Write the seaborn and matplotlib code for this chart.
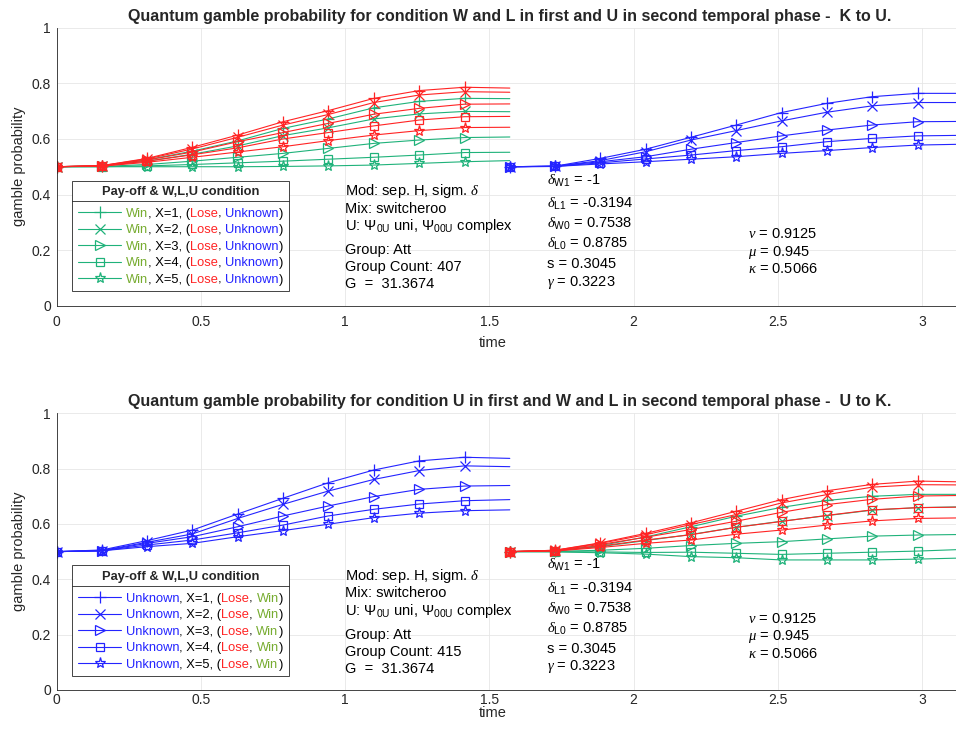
import numpy as np
import pandas as pd
import matplotlib
matplotlib.use('Agg')
import matplotlib.pyplot as plt
import seaborn as sns
from matplotlib.lines import Line2D

# ---------------- data ----------------
T1 = [0.000, 0.157, 0.314, 0.471, 0.628, 0.785, 0.942, 1.100, 1.257, 1.414, 1.571]
T2 = [1.571, 1.728, 1.885, 2.042, 2.199, 2.356, 2.513, 2.670, 2.827, 2.985, 3.142]

# top panel, first phase: Win (X=1..5) and Lose (X=1..5)
TOP_WIN = [
    [0.500, 0.503, 0.525, 0.556, 0.593, 0.638, 0.672, 0.712, 0.735, 0.746, 0.745],
    [0.500, 0.503, 0.520, 0.545, 0.575, 0.612, 0.640, 0.672, 0.690, 0.699, 0.698],
    [0.500, 0.501, 0.508, 0.520, 0.534, 0.548, 0.566, 0.584, 0.596, 0.605, 0.607],
    [0.500, 0.500, 0.503, 0.508, 0.514, 0.520, 0.527, 0.534, 0.542, 0.551, 0.552],
    [0.500, 0.500, 0.500, 0.500, 0.500, 0.501, 0.503, 0.506, 0.512, 0.518, 0.522],
]
TOP_LOSE = [
    [0.500, 0.504, 0.530, 0.570, 0.614, 0.662, 0.702, 0.746, 0.774, 0.786, 0.783],
    [0.500, 0.504, 0.528, 0.564, 0.606, 0.650, 0.688, 0.731, 0.758, 0.770, 0.768],
    [0.500, 0.503, 0.524, 0.553, 0.590, 0.623, 0.656, 0.689, 0.710, 0.725, 0.726],
    [0.500, 0.503, 0.520, 0.543, 0.568, 0.600, 0.623, 0.647, 0.668, 0.680, 0.681],
    [0.500, 0.502, 0.516, 0.534, 0.553, 0.572, 0.594, 0.614, 0.630, 0.641, 0.642],
]
# top panel, second phase: Unknown (X=1..5)
TOP_UNK = [
    [0.500, 0.502, 0.530, 0.563, 0.606, 0.650, 0.695, 0.728, 0.752, 0.764, 0.764],
    [0.500, 0.502, 0.522, 0.554, 0.596, 0.630, 0.665, 0.696, 0.719, 0.731, 0.731],
    [0.500, 0.502, 0.518, 0.536, 0.563, 0.587, 0.611, 0.632, 0.650, 0.662, 0.663],
    [0.500, 0.501, 0.514, 0.528, 0.542, 0.558, 0.572, 0.590, 0.602, 0.611, 0.613],
    [0.500, 0.501, 0.510, 0.518, 0.527, 0.536, 0.548, 0.558, 0.569, 0.578, 0.581],
]
# bottom panel, first phase: Unknown (X=1..5)
BOT_UNK = [
    [0.500, 0.506, 0.540, 0.578, 0.636, 0.693, 0.749, 0.795, 0.828, 0.841, 0.837],
    [0.500, 0.504, 0.534, 0.564, 0.620, 0.671, 0.719, 0.761, 0.793, 0.810, 0.807],
    [0.500, 0.503, 0.530, 0.554, 0.590, 0.629, 0.665, 0.699, 0.725, 0.737, 0.739],
    [0.500, 0.503, 0.524, 0.542, 0.568, 0.596, 0.629, 0.653, 0.672, 0.684, 0.688],
    [0.500, 0.503, 0.518, 0.530, 0.554, 0.576, 0.599, 0.623, 0.639, 0.648, 0.651],
]
# bottom panel, second phase: Win and Lose (X=1..5)
BOT_WIN = [
    [0.500, 0.503, 0.522, 0.553, 0.590, 0.628, 0.660, 0.685, 0.700, 0.707, 0.707],
    [0.500, 0.503, 0.518, 0.540, 0.562, 0.588, 0.610, 0.630, 0.650, 0.659, 0.662],
    [0.500, 0.501, 0.505, 0.512, 0.522, 0.530, 0.536, 0.546, 0.556, 0.560, 0.562],
    [0.500, 0.500, 0.499, 0.497, 0.498, 0.494, 0.490, 0.494, 0.498, 0.502, 0.508],
    [0.500, 0.499, 0.496, 0.491, 0.482, 0.478, 0.470, 0.470, 0.470, 0.473, 0.477],
]
BOT_LOSE = [
    [0.500, 0.505, 0.532, 0.566, 0.604, 0.646, 0.688, 0.720, 0.743, 0.755, 0.752],
    [0.500, 0.505, 0.530, 0.561, 0.598, 0.634, 0.676, 0.706, 0.733, 0.742, 0.741],
    [0.500, 0.504, 0.526, 0.552, 0.580, 0.610, 0.642, 0.670, 0.689, 0.701, 0.703],
    [0.500, 0.503, 0.520, 0.542, 0.561, 0.588, 0.609, 0.631, 0.651, 0.659, 0.661],
    [0.500, 0.502, 0.515, 0.530, 0.542, 0.563, 0.578, 0.596, 0.611, 0.620, 0.622],
]

X_TICKS = [0, 0.5, 1, 1.5, 2, 2.5, 3]
X_TICKLABELS = ['0', '0.5', '1', '1.5', '2', '2.5', '3']
Y_TICKS = [0, 0.2, 0.4, 0.6, 0.8, 1.0]
Y_TICKLABELS = ['0', '0.2', '0.4', '0.6', '0.8', '1']

TITLES = [
    'Quantum gamble probability for condition W and L in first and U in second temporal phase -  K to U.',
    'Quantum gamble probability for condition U in first and W and L in second temporal phase -  U to K.',
]
GROUP_COUNTS = [407, 415]
PARAMS_A = [r'$\delta_{\mathrm{W1}}$ = -1', r'$\delta_{\mathrm{L1}}$ = -0.3194',
            r'$\delta_{\mathrm{W0}}$ = 0.7538', r'$\delta_{\mathrm{L0}}$ = 0.8785',
            's = 0.3045', r'$\gamma$ = 0.3223']
PARAMS_B = [r'$\nu$ = 0.9125', r'$\mu$ = 0.945', r'$\kappa$ = 0.5066']

# ---------------- style ----------------
sns.set_theme(style='white')
plt.rcParams['font.family'] = ['Liberation Sans', 'DejaVu Sans']
plt.rcParams['mathtext.fontset'] = 'custom'
plt.rcParams['mathtext.rm'] = 'Liberation Sans'
plt.rcParams['mathtext.it'] = 'Liberation Serif:italic'
plt.rcParams['mathtext.bf'] = 'Liberation Sans:bold'

GREEN = '#1fb27a'
RED = '#ff2424'
BLUE = '#2424ff'
OLIVE = '#77ac30'
AXC = '#262626'
MARKERS = ['+', 'x', '>', 's', '*']
MSIZES = [8.0, 6.5, 7.0, 6.0, 8.0]
LW = 0.8
LEG_FS = 9.3

fig = plt.figure(figsize=(9.56, 7.29), dpi=100)
ax_top = fig.add_axes([0.0592, 0.5807, 0.948, 0.3812])
ax_bot = fig.add_axes([0.0592, 0.0535, 0.948, 0.3796])


def draw_group(ax, T, rows, color):
    for i, vals in enumerate(rows):
        df = pd.DataFrame({'time': T, 'prob': vals})
        sns.lineplot(data=df, x='time', y='prob', ax=ax, color=color, lw=LW,
                     marker=MARKERS[i], ms=MSIZES[i],
                     markevery=list(range(len(T) - 1)),
                     mfc='none', mec=color, mew=0.9,
                     errorbar=None, legend=False)


def style_axes(ax, title, xpad, xlab_y):
    ax.set_xlim(0, np.pi)
    ax.set_ylim(0, 1)
    ax.set_xticks(X_TICKS)
    ax.set_xticklabels(X_TICKLABELS)
    ax.set_yticks(Y_TICKS)
    ax.set_yticklabels(Y_TICKLABELS)
    ax.grid(True, color='#e6e6e6', lw=0.6)
    ax.set_axisbelow(True)
    for s in ['top', 'right']:
        ax.spines[s].set_visible(False)
    for s in ['left', 'bottom']:
        ax.spines[s].set_color(AXC)
        ax.spines[s].set_linewidth(0.6)
    ax.tick_params(direction='in', length=4, width=0.6, color=AXC,
                   labelsize=10, labelcolor=AXC)
    ax.tick_params(axis='x', pad=xpad)
    ax.tick_params(axis='y', pad=4)
    ax.set_xlabel('time', fontsize=10.5, color=AXC)
    ax.set_ylabel('gamble probability', fontsize=10.5, color=AXC)
    ax.xaxis.set_label_coords(0.481, xlab_y)
    ax.yaxis.set_label_coords(-0.034, 0.5)
    ax.set_title(title, fontsize=11.5, fontweight='bold', pad=5)


def add_texts(ax, count):
    block1 = ['Mod: sep. H, sigm. $\\delta$', 'Mix: switcheroo',
              r'U: $\Psi_{\mathrm{0U}}$ uni, $\Psi_{\mathrm{00U}}$ complex',
              'Group: Att', f'Group Count: {count}', 'G  =  31.3674']
    y1 = [0.397, 0.335, 0.271, 0.185, 0.124, 0.062]
    for s, y in zip(block1, y1):
        ax.text(1.0, y, s, fontsize=10.5, va='baseline', ha='left', color='black')
    y2 = [0.436, 0.352, 0.280, 0.208, 0.134, 0.071]
    for s, y in zip(PARAMS_A, y2):
        ax.text(1.699, y, s, fontsize=10.5, va='baseline', ha='left', color='black')
    y3 = [0.242, 0.179, 0.116]
    for s, y in zip(PARAMS_B, y3):
        ax.text(2.398, y, s, fontsize=10.5, va='baseline', ha='left', color='black')


def make_legend(ax, hcolor, rows):
    handles = [Line2D([], [], color=hcolor, lw=LW, marker=m, ms=ms, mfc='none',
                      mec=hcolor, mew=0.9) for m, ms in zip(MARKERS, MSIZES)]
    labels = [''.join(p for p, _ in r) for r in rows]
    leg = ax.legend(handles, labels, loc='upper left', bbox_to_anchor=(0.0167, 0.45),
                    title='Pay-off & W,L,U condition',
                    title_fontproperties={'weight': 'bold', 'size': LEG_FS},
                    fontsize=LEG_FS, frameon=True, fancybox=False, framealpha=1,
                    edgecolor=AXC, borderpad=0.45, handlelength=3.4,
                    handletextpad=0.33, labelspacing=0.34, borderaxespad=0)
    leg.get_frame().set_linewidth(0.6)
    leg._legend_box.sep = 6.8
    return leg


# top panel
draw_group(ax_top, T1, TOP_WIN, GREEN)
draw_group(ax_top, T1, TOP_LOSE, RED)
draw_group(ax_top, T2, TOP_UNK, BLUE)
style_axes(ax_top, TITLES[0], 7, -0.11)
add_texts(ax_top, GROUP_COUNTS[0])
rows_top = [[('Win', OLIVE), (f', X={k}, (', 'black'), ('Lose', RED), (', ', 'black'),
             ('Unknown', BLUE), (')', 'black')] for k in range(1, 6)]
leg_top = make_legend(ax_top, GREEN, rows_top)

# bottom panel
draw_group(ax_bot, T1, BOT_UNK, BLUE)
draw_group(ax_bot, T2, BOT_WIN, GREEN)
draw_group(ax_bot, T2, BOT_LOSE, RED)
style_axes(ax_bot, TITLES[1], 2.5, -0.058)
add_texts(ax_bot, GROUP_COUNTS[1])
rows_bot = [[('Unknown', BLUE), (f', X={k}, (', 'black'), ('Lose', RED), (', ', 'black'),
             ('Win', OLIVE), (')', 'black')] for k in range(1, 6)]
leg_bot = make_legend(ax_bot, BLUE, rows_bot)

# multi-coloured legend labels + separator line under the legend title
fig.canvas.draw()
r = fig.canvas.get_renderer()
inv = fig.transFigure.inverted()
for ax, leg, rows in ((ax_top, leg_top, rows_top), (ax_bot, leg_bot, rows_bot)):
    fb = leg.get_frame().get_window_extent(r)
    tb = leg.get_title().get_window_extent(r)
    y = tb.y0 - 2.5
    (x0, yy), (x1, _) = inv.transform([(fb.x0, y), (fb.x1, y)])
    fig.add_artist(Line2D([x0, x1], [yy, yy], color=AXC, lw=0.6, zorder=10))
    for txt, row in zip(leg.get_texts(), rows):
        bb = txt.get_window_extent(r)
        txt.set_visible(False)
        prev = None
        for piece, col in row:
            if prev is None:
                a = fig.text(bb.x0 / fig.bbox.width, bb.y0 / fig.bbox.height, piece,
                             va='bottom', ha='left', color=col, fontsize=LEG_FS, zorder=11)
            else:
                a = ax.annotate(piece, xy=(1, 0), xycoords=prev, va='bottom', ha='left',
                                color=col, fontsize=LEG_FS, annotation_clip=False)
                a.remove()
                fig.add_artist(a)
                a.set_zorder(11)
            prev = a

fig.savefig('out.png', dpi=100)
